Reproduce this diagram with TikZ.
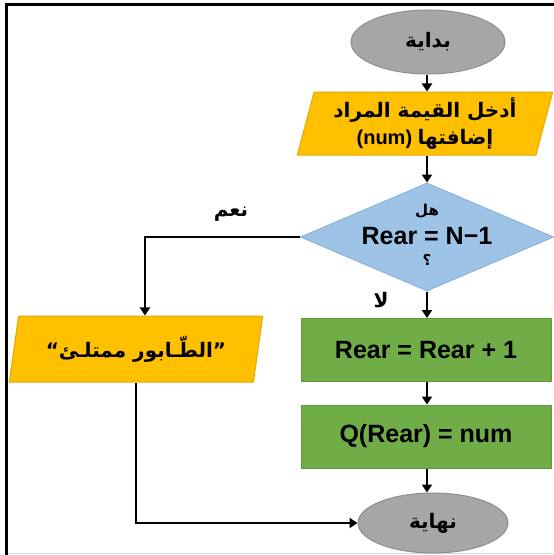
\documentclass[tikz,border=0pt]{standalone}
\usepackage{fontspec}
\setmainfont{Liberation Sans}
\newfontfamily\arabicfont[Script=Arabic]{DejaVu Sans}
\TeXXeTstate=1
\usetikzlibrary{shapes.geometric,arrows.meta}
\newcommand\artext[1]{{\arabicfont\bfseries\beginR #1\endR}}

\definecolor{termfill}{HTML}{A6A6A6}
\definecolor{termline}{HTML}{8E8E8E}
\definecolor{iofill}{HTML}{FFC000}
\definecolor{ioline}{HTML}{E3A900}
\definecolor{decfill}{HTML}{9DC3E6}
\definecolor{decline}{HTML}{8CB2DA}
\definecolor{procfill}{HTML}{70AD47}
\definecolor{procline}{HTML}{5E9A3A}

\tikzset{
  term/.style={ellipse, fill=termfill, draw=termline, line width=1pt,
    minimum width=154pt, minimum height=64pt, inner sep=0pt},
  iobox/.style={trapezium, trapezium left angle=75, trapezium right angle=105,
    trapezium stretches=true, fill=iofill, draw=ioline, line width=1pt,
    inner sep=0pt, align=center},
  decbox/.style={diamond, fill=decfill, draw=decline, line width=1pt,
    minimum width=253pt, minimum height=108pt, inner sep=0pt},
  procbox/.style={rectangle, fill=procfill, draw=procline, line width=1pt,
    minimum width=250pt, minimum height=63pt, inner sep=0pt},
  flow/.style={draw=black, line width=2.9pt,
    -{Triangle[length=8pt,width=10pt]}},
  latin/.style={font=\fontsize{25}{30}\selectfont\bfseries},
  arlabel/.style={font=\fontsize{20}{27}\selectfont}
}

\begin{document}
\begin{tikzpicture}[x=1pt, y=-1pt]
  \useasboundingbox (0,0) rectangle (554,555);
  \fill[white] (0,0) rectangle (554,555);

  % frame of the sheet
  \draw[black, line width=3.5pt] (6.5,555) -- (6.5,4.5) -- (554,4.5);
  \draw[black!15, line width=1pt] (8,553.5) -- (554,553.5);

  % shapes
  \node[term, arlabel] (start) at (428,42) {\artext{بداية}};
  \node[iobox, arlabel, minimum width=256pt, minimum height=63pt] (input) at (425,123.5)
    {\artext{أدخل القيمة المراد}\\ \textbf{(num)} \artext{إضافتها}};
  \node[decbox] (dec) at (427,237) {};
  \node[arlabel, font=\fontsize{15}{18}\selectfont] (decq1) at (427,211) {\artext{هل}};
  \node[latin] (decmid) at (427,236) {Rear = N−1};
  \node[arlabel, font=\fontsize{15}{18}\selectfont] (decq2) at (427,260) {\artext{؟}};

  \node[procbox, latin] (inc) at (426,350) {Rear = Rear + 1};
  \node[procbox, latin] (store) at (426,436.5) {Q(Rear) = num};

  \node[iobox, arlabel, minimum width=254pt, minimum height=66pt] (full) at (136,349)
    {\artext{”الطّـابور ممتلـئ“}};

  \node[term, arlabel, minimum width=150pt, minimum height=60pt] (stop) at (433,523)
    {\artext{نهاية}};

  % branch labels
  \node[arlabel] (yes) at (231,214) {\artext{نعم}};
  \node[arlabel] (no) at (381,300) {\artext{لا}};

  % connectors
  \draw[flow] (start.south -| 427,0) -- (input.north -| 427,0);
  \draw[flow] (input.south -| 427,0) -- (dec.north);
  \draw[flow] (dec.west) -| ([xshift=9pt]full.north);
  \draw[flow] (dec.south) -- (inc.north -| dec.south);
  \draw[flow] (inc.south -| dec.south) -- (store.north -| dec.south);
  \draw[flow] (store.south -| dec.south) -- (stop.north -| dec.south);
  \draw[flow] (full.south) |- (stop.west);
\end{tikzpicture}
\end{document}
